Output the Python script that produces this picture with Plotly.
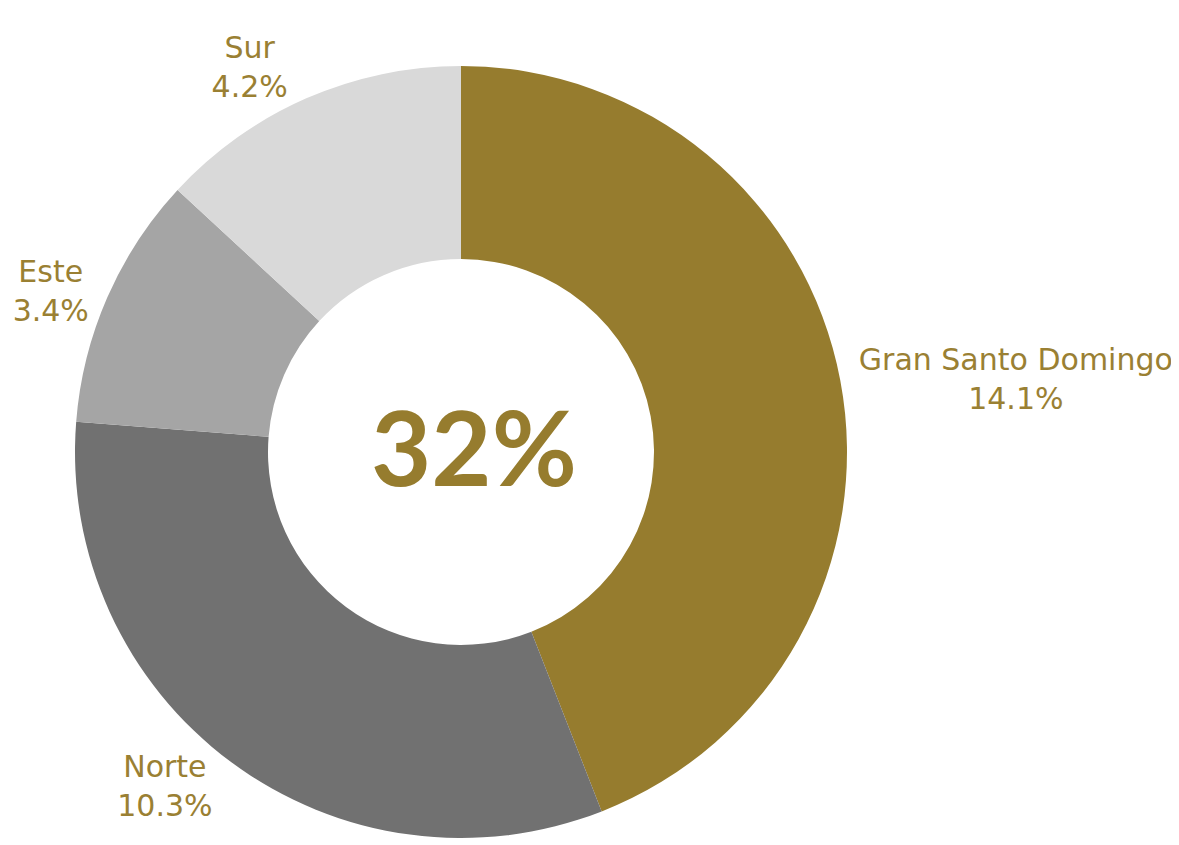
import plotly.graph_objects as go

regions = ["Gran Santo Domingo", "Norte", "Este", "Sur"]
shares = [14.1, 10.3, 3.4, 4.2]
colors = ["#967C2E", "#717171", "#A5A5A5", "#D9D9D9"]
total_label = "32%"

W, H = 1179, 845
gold = "#9A8033"

fig = go.Figure(go.Pie(
    labels=regions,
    values=shares,
    hole=0.5,
    sort=False,
    direction="clockwise",
    rotation=0,
    marker=dict(colors=colors, line=dict(width=0)),
    textposition="outside",
    texttemplate="%{label}<br>%{value}%",
    textfont=dict(family="DejaVu Sans", size=30, color=gold),
    domain=dict(x=[67 / W, 839 / W], y=[1 - 830 / H, 1 - 58 / H]),
    showlegend=False,
))

fig.add_annotation(
    text="<b>" + total_label + "</b>",
    x=466 / W, y=1 - 437 / H, xref="paper", yref="paper",
    showarrow=False,
    font=dict(family="Lato", size=104, color="#967C2E"),
)

fig.update_layout(
    width=W, height=H,
    margin=dict(l=0, r=0, t=0, b=0),
    paper_bgcolor="white",
    plot_bgcolor="white",
)

fig.write_html("out.html")
